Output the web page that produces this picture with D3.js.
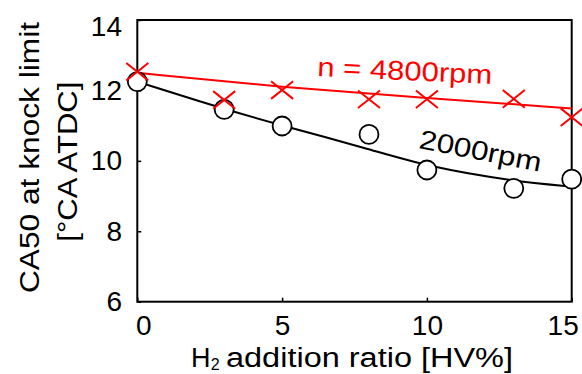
<!DOCTYPE html>
<html>
<head>
<meta charset="utf-8">
<script src="https://cdn.jsdelivr.net/npm/d3@7"></script>
<style>
  body { margin: 0; background: #fff; }
  text { font-family: "Liberation Sans", Arial, sans-serif; }
</style>
</head>
<body>
<div class="canvas"></div>
<script>
// data
const xTicks = [0, 5, 10, 15];
const yTicks = [6, 8, 10, 12, 14];

const h2Ratio = [0, 3, 5, 8, 10, 13, 15];
const ca50At2000 = [12.25, 11.46, 10.99, 10.75, 9.74, 9.22, 9.48];
const ca50At4800 = [12.53, 11.73, 12.01, 11.75, 11.75, 11.76, 11.24];

// fitted trend lines
const fitX2000 = [0, 3, 5, 8, 10, 13, 15];
const fit2000 = [12.25, 11.47, 11.0, 10.34, 9.84, 9.42, 9.27];
const fitX4800 = [0, 5, 10, 15];
const fit4800 = [12.5, 12.09, 11.78, 11.49];

const margin = { top: 20, right: 10.3, bottom: 72.3, left: 137.3 };
const width = 582;
const height = 374;
const graphWidth = width - margin.left - margin.right;
const graphHeight = height - margin.top - margin.bottom;

const svg = d3
  .select(".canvas")
  .append("svg")
  .attr("width", width)
  .attr("height", height);

const graph = svg
  .append("g")
  .attr("transform", `translate(${margin.left}, ${margin.top})`);

//scales
const x = d3.scaleLinear().domain([0, 15]).range([0, graphWidth]);
const y = d3.scaleLinear().domain([6, 14]).range([graphHeight, 0]);

//axes with inward ticks
const xAxis = d3.axisBottom(x).tickValues(xTicks).tickSizeInner(-4).tickSizeOuter(0).tickPadding(13.3);
const yAxis = d3.axisLeft(y).tickValues(yTicks).tickSizeInner(-4).tickSizeOuter(0).tickPadding(15.3);

const xAxisGroup = graph
  .append("g")
  .attr("transform", `translate(0, ${graphHeight})`)
  .call(xAxis);
const yAxisGroup = graph.append("g").call(yAxis);

[xAxisGroup, yAxisGroup].forEach(g => {
  g.select(".domain").remove();
  g.selectAll("line").attr("stroke", "#000").attr("stroke-width", 1.5);
  g.selectAll("text")
    .attr("fill", "#000")
    .style("font-size", "28px")
    .style("font-family", '"Liberation Sans", Arial, sans-serif');
});

//first and last labels are pulled inside the picture
xAxisGroup.selectAll("text").attr("dx", d => (d === 0 ? 6 : d === 15 ? -9 : 0));
yAxisGroup.selectAll("text").attr("dy", d => (d === 14 ? "0.57em" : "0.32em"));

//frame
graph
  .append("rect")
  .attr("width", graphWidth)
  .attr("height", graphHeight)
  .attr("fill", "none")
  .attr("stroke", "#000")
  .attr("stroke-width", 2);

//fit lines
const line = d3
  .line()
  .x(d => x(d[0]))
  .y(d => y(d[1]))
  .curve(d3.curveBasis);

graph
  .append("path")
  .datum(fitX2000.map((v, i) => [v, fit2000[i]]))
  .attr("fill", "none")
  .attr("stroke", "#000")
  .attr("stroke-width", 2)
  .attr("d", line);

graph
  .append("path")
  .datum(fitX4800.map((v, i) => [v, fit4800[i]]))
  .attr("fill", "none")
  .attr("stroke", "#ff0000")
  .attr("stroke-width", 2)
  .attr("d", line);

//2000rpm circles
graph
  .selectAll("circle")
  .data(h2Ratio.map((v, i) => [v, ca50At2000[i]]))
  .enter()
  .append("circle")
  .attr("cx", d => x(d[0]))
  .attr("cy", d => y(d[1]))
  .attr("r", 9.5)
  .attr("fill", "#fff")
  .attr("stroke", "#000")
  .attr("stroke-width", 1.8);

//4800rpm crosses
const s = 11;
graph
  .selectAll(".cross")
  .data(h2Ratio.map((v, i) => [v, ca50At4800[i]]))
  .enter()
  .append("path")
  .attr("class", "cross")
  .attr("transform", d => `translate(${x(d[0])}, ${y(d[1])})`)
  .attr("d", `M${-s},${-s * 0.8}L${s},${s * 0.8}M${-s},${s * 0.8}L${s},${-s * 0.8}`)
  .attr("fill", "none")
  .attr("stroke", "#ff0000")
  .attr("stroke-width", 2);

//annotations
svg
  .append("text")
  .attr("transform", "translate(317, 76) rotate(2.6)")
  .attr("fill", "#ff0000")
  .style("font-size", "27px")
  .attr("textLength", 175)
  .attr("lengthAdjust", "spacingAndGlyphs")
  .text("n = 4800rpm");

svg
  .append("text")
  .attr("transform", "translate(418, 148) rotate(11)")
  .attr("fill", "#000")
  .style("font-size", "27px")
  .attr("textLength", 124)
  .attr("lengthAdjust", "spacingAndGlyphs")
  .text("2000rpm");

//axis titles
svg
  .append("text")
  .attr("x", 191)
  .attr("y", 367)
  .attr("fill", "#000")
  .style("font-size", "27px")
  .text("H");

svg
  .append("text")
  .attr("x", 210.8)
  .attr("y", 370)
  .attr("fill", "#000")
  .style("font-size", "16px")
  .text("2");

svg
  .append("text")
  .attr("x", 226)
  .attr("y", 367)
  .attr("fill", "#000")
  .style("font-size", "27px")
  .attr("textLength", 287)
  .attr("lengthAdjust", "spacingAndGlyphs")
  .text("addition ratio [HV%]");

svg
  .append("text")
  .attr("transform", "translate(38.5, 157.5) rotate(-90)")
  .attr("text-anchor", "middle")
  .attr("fill", "#000")
  .style("font-size", "27px")
  .attr("textLength", 271)
  .attr("lengthAdjust", "spacingAndGlyphs")
  .text("CA50 at knock limit");

svg
  .append("text")
  .attr("transform", "translate(76.7, 161.7) rotate(-90)")
  .attr("text-anchor", "middle")
  .attr("fill", "#000")
  .style("font-size", "27px")
  .attr("textLength", 160)
  .attr("lengthAdjust", "spacingAndGlyphs")
  .text("[°CA ATDC]");
</script>
</body>
</html>
